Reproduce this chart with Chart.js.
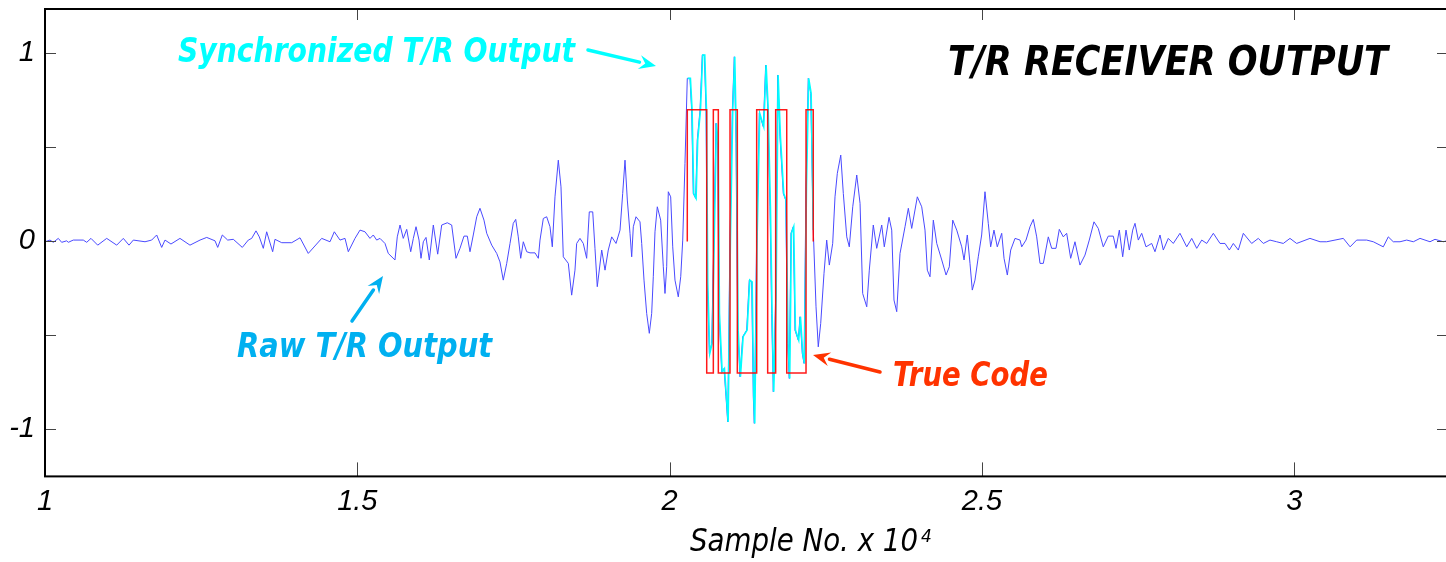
<!DOCTYPE html>
<html><head><meta charset="utf-8">
<script src="https://cdn.jsdelivr.net/npm/chart.js@4.4.0/dist/chart.umd.min.js"></script>
<style>
html,body{margin:0;padding:0;background:#fff;overflow:hidden;}
#wrap{position:relative;width:1450px;height:562px;}
</style></head><body>
<div id="wrap"><canvas id="c"></canvas></div>
<script>
// Raw T/R output (sample no. x 1e4, amplitude)
const rawX = [
1.0000,1.0080,1.0133,1.0213,1.0267,1.0347,1.0373,1.0453,1.0613,1.0668,
1.0736,1.0844,1.0988,1.1148,1.1254,1.1345,1.1414,1.1601,1.1708,1.1788,
1.1868,1.1921,1.2017,1.2161,1.2321,1.2482,1.2589,1.2722,1.2765,1.2839,
1.2925,1.3015,1.3159,1.3255,1.3309,1.3378,1.3431,1.3495,1.3549,1.3645,
1.3682,1.3790,1.3950,1.4083,1.4215,1.4430,1.4563,1.4632,1.4723,1.4803,
1.4856,1.4963,1.5043,1.5123,1.5203,1.5256,1.5310,1.5363,1.5443,1.5496,
1.5603,1.5640,1.5684,1.5736,1.5791,1.5855,1.5897,1.5940,1.5988,1.6020,
1.6057,1.6100,1.6153,1.6217,1.6287,1.6351,1.6441,1.6511,1.6580,1.6644,
1.6708,1.6761,1.6804,1.6857,1.6912,1.6964,1.7028,1.7072,1.7152,1.7232,
1.7284,1.7337,1.7392,1.7445,1.7497,1.7536,1.7577,1.7616,1.7658,1.7712,
1.7765,1.7845,1.7898,1.7925,1.7978,1.8032,1.8085,1.8122,1.8165,1.8218,
1.8261,1.8298,1.8378,1.8432,1.8485,1.8512,1.8565,1.8618,1.8672,1.8714,
1.8769,1.8805,1.8842,1.8913,1.8966,1.9018,1.9073,1.9142,1.9206,1.9249,
1.9286,1.9323,1.9366,1.9393,1.9419,1.9462,1.9526,1.9553,1.9590,1.9633,
1.9675,1.9713,1.9739,1.9766,1.9803,1.9857,1.9899,1.9926,1.9953,1.9979,
2.0017,2.0050,2.0086,2.0139,2.0178,2.0210,2.0246,
2.0283,2.0326,2.0353,2.0379,2.0417,2.0443,2.0487,2.0523,2.0556,2.0583,
2.0604,2.0636,2.0674,2.0700,2.0743,2.0770,2.0791,2.0834,2.0871,2.0903,
2.0930,2.0967,2.1004,2.1036,2.1063,2.1090,2.1127,2.1170,2.1234,2.1276,
2.1314,2.1340,2.1356,2.1394,2.1436,2.1500,2.1538,2.1570,2.1607,2.1634,
2.1660,2.1698,2.1730,2.1767,2.1820,2.1858,2.1890,2.1916,2.1943,2.1980,
2.2007,2.2060,2.2088,2.2124,2.2152,2.2184,2.2220,2.2259,2.2300,
2.2344,2.2380,2.2419,2.2472,2.2515,2.2557,2.2611,2.2648,2.2685,2.2740,
2.2781,2.2836,2.2877,2.2932,2.2996,2.3049,2.3091,2.3156,2.3197,2.3261,
2.3316,2.3396,2.3437,2.3513,2.3556,2.3592,2.3636,2.3689,2.3769,2.3822,
2.3876,2.3966,2.4036,2.4089,2.4126,2.4169,2.4222,2.4277,2.4357,2.4426,
2.4478,2.4533,2.4597,2.4677,2.4714,2.4766,2.4809,2.4846,2.4889,2.4942,
2.4996,2.5049,2.5102,2.5140,2.5193,2.5246,2.5317,2.5354,2.5407,2.5461,
2.5530,2.5610,2.5637,2.5706,2.5770,2.5823,2.5877,2.5930,2.5983,2.6063,
2.6117,2.6186,2.6239,2.6303,2.6357,2.6421,2.6490,2.6570,2.6650,2.6719,
2.6794,2.6863,2.6943,2.7023,2.7103,
2.7147,2.7200,2.7254,2.7307,2.7360,2.7414,2.7451,2.7504,2.7558,2.7627,
2.7718,2.7771,2.7851,2.7904,2.7984,2.8064,2.8171,2.8279,2.8359,2.8439,
2.8519,2.8599,2.8705,2.8812,2.8892,2.8961,2.9025,2.9105,2.9185,2.9319,
2.9425,2.9505,2.9612,2.9719,2.9825,2.9932,3.0039,3.0252,3.0413,3.0520,
3.0653,3.0786,3.0895,3.1000,3.1160,3.1266,3.1426,3.1506,3.1586,3.1694,
3.1801,3.1907,3.2014,3.2174,3.2254,3.2387,3.2462
];
const rawY = [
-0.002,0.007,-0.005,0.016,-0.005,0.003,-0.005,0.007,0.007,-0.005,
0.016,-0.020,0.016,-0.020,0.016,-0.020,0.007,-0.002,0.007,0.034,
-0.032,0.007,-0.014,0.016,-0.020,0.007,0.021,0.003,-0.032,0.034,
0.007,0.011,-0.032,0.007,0.016,0.056,0.024,-0.037,0.051,-0.055,
0.011,-0.007,-0.007,0.019,-0.064,0.016,-0.002,0.051,0.007,0.016,
-0.055,0.016,0.060,0.051,0.016,0.034,0.007,0.016,-0.011,-0.064,
-0.099,0.024,0.087,0.016,0.064,-0.055,0.016,0.078,0.007,-0.090,
-0.002,0.021,-0.099,0.087,-0.068,0.087,0.099,0.087,-0.090,-0.037,
0.028,0.028,-0.055,0.034,0.131,0.176,0.113,0.043,-0.020,-0.064,
-0.109,-0.206,-0.117,-0.011,0.096,0.117,0.024,-0.090,-0.002,-0.055,
-0.061,-0.061,-0.090,0.007,0.122,0.131,0.078,-0.029,0.237,0.432,
0.290,-0.082,-0.117,-0.286,-0.153,-0.011,0.016,-0.011,-0.090,0.157,
0.157,-0.037,-0.241,-0.046,-0.153,-0.046,0.024,-0.011,0.060,0.255,
0.432,0.220,0.043,-0.082,0.078,0.131,0.104,-0.011,-0.206,-0.383,
-0.489,-0.383,-0.188,0.051,0.184,0.113,-0.135,-0.277,-0.135,0.264,
0.237,-0.029,-0.206,-0.295,-0.188,0.007,0.415,
0.867,0.867,0.698,0.255,0.229,0.539,0.698,0.991,0.991,0.698,
-0.223,-0.596,-0.543,-0.117,0.628,0.512,-0.383,-0.694,-0.676,-0.827,
-0.960,0.024,0.698,0.982,0.521,-0.472,-0.720,-0.507,-0.472,-0.206,
-0.215,-0.827,-0.968,0.024,0.681,0.610,0.938,0.716,0.184,-0.383,
-0.800,-0.295,0.885,0.556,0.255,0.220,-0.543,-0.729,0.043,0.078,
-0.472,-0.525,-0.401,-0.596,-0.649,0.290,0.867,0.787,0.060,
-0.348,-0.561,-0.436,-0.170,0.007,-0.126,-0.011,0.237,0.362,0.459,
0.255,0.024,-0.029,0.184,0.353,0.202,-0.277,-0.348,-0.153,0.087,
-0.037,0.087,-0.029,0.128,0.060,-0.312,-0.374,-0.064,0.078,0.176,
0.069,0.237,0.184,0.060,-0.153,-0.188,0.113,-0.011,-0.099,-0.179,
-0.135,0.113,0.060,-0.029,-0.099,0.034,-0.117,-0.259,-0.206,-0.082,
0.034,0.264,0.096,-0.029,0.060,-0.029,0.043,-0.090,-0.179,-0.046,
0.016,0.007,-0.029,0.007,0.078,0.117,0.024,-0.117,-0.117,0.024,
-0.037,-0.037,0.064,0.024,0.043,-0.090,-0.002,-0.126,-0.073,0.007,
0.104,0.069,-0.029,0.028,0.028,
-0.037,0.060,-0.082,0.060,-0.046,0.060,0.096,0.007,0.043,-0.029,
-0.011,-0.055,0.034,-0.046,0.016,-0.011,0.043,-0.029,0.016,-0.037,
0.007,-0.011,0.043,-0.011,-0.011,-0.046,-0.011,-0.046,0.043,-0.011,
0.016,-0.011,0.007,-0.002,-0.011,0.016,-0.011,0.016,-0.002,-0.002,
0.007,0.016,-0.029,0.007,0.007,-0.002,-0.029,0.024,-0.002,-0.002,
0.007,-0.002,0.016,-0.002,0.011,-0.002,0.005
];
// Synchronized T/R output (only in the code window)
const syncX = [
2.0290,2.0333,2.0360,2.0386,2.0424,2.0450,2.0494,2.0530,2.0563,2.0590,
2.0611,2.0643,2.0681,2.0707,2.0750,2.0777,2.0798,2.0841,2.0878,2.0910,
2.0937,2.0974,2.1011,2.1043,2.1070,2.1097,2.1134,2.1177,2.1241,2.1283,
2.1321,2.1347,2.1363,2.1401,2.1443,2.1507,2.1545,2.1577,2.1614,2.1641,
2.1667,2.1705,2.1737,2.1774,2.1827,2.1865,2.1897,2.1923,2.1950,2.1987,
2.2014,2.2067,2.2095,2.2131,2.2159,2.2191,2.2227,2.2266,2.2300
];
const syncY = [
0.867,0.867,0.698,0.255,0.229,0.539,0.698,0.991,0.991,0.698,
-0.223,-0.596,-0.543,-0.117,0.628,0.512,-0.383,-0.694,-0.676,-0.827,
-0.960,0.024,0.698,0.982,0.521,-0.472,-0.720,-0.507,-0.472,-0.206,
-0.215,-0.827,-0.968,0.024,0.681,0.610,0.938,0.716,0.184,-0.383,
-0.800,-0.295,0.885,0.556,0.255,0.220,-0.543,-0.729,0.043,0.078,
-0.472,-0.525,-0.401,-0.596,-0.649,0.290,0.867,0.787,0.060
];
// True code: transition instants and chip levels
const codeEdges = [2.0283,2.0594,2.0700,2.0780,2.0967,2.1084,2.1394,2.1570,2.1698,2.1875,2.2184,2.2300];
const codeLevels = [0.7,-0.7,0.7,-0.7,0.7,-0.7,0.7,-0.7,0.7,-0.7,0.7];
const xTickValues = [1,1.5,2,2.5,3];
const yTickLabels = {'1':'1','0':'0','-1':'-1'};

const rawData = rawX.map((x,i)=>({x:x,y:rawY[i]}));
const syncData = syncX.map((x,i)=>({x:x,y:syncY[i]}));
const codeData = [{x:codeEdges[0],y:0}];
codeLevels.forEach((l,i)=>{codeData.push({x:codeEdges[i],y:l},{x:codeEdges[i+1],y:l});});
codeData.push({x:codeEdges[codeEdges.length-1],y:0});

const COMIC = "'Comic Sans MS','DejaVu Sans',sans-serif";
function fitText(ctx, text, left, baseline, width, cap, color, weight){
  const size = cap/0.73;
  ctx.save();
  ctx.font = 'italic ' + weight + ' ' + size.toFixed(1) + 'px ' + COMIC;
  const w = ctx.measureText(text).width;
  ctx.translate(left, baseline);
  ctx.scale(width/w, 1);
  ctx.fillStyle = color;
  ctx.textBaseline = 'alphabetic';
  ctx.textAlign = 'left';
  ctx.fillText(text, 0, 0);
  ctx.restore();
}
function arrow(ctx, x0,y0,x1,y1,color,lw,hl,hw){
  const ang = Math.atan2(y1-y0,x1-x0);
  const bx = x1 - hl*Math.cos(ang), by = y1 - hl*Math.sin(ang);
  ctx.save();
  ctx.strokeStyle = color; ctx.fillStyle = color; ctx.lineWidth = lw; ctx.lineCap='round';
  ctx.beginPath(); ctx.moveTo(x0,y0); ctx.lineTo(bx,by); ctx.stroke();
  ctx.beginPath();
  ctx.moveTo(x1,y1);
  ctx.lineTo(bx + hw*Math.sin(ang), by - hw*Math.cos(ang));
  ctx.lineTo(bx + 0.35*hl*Math.cos(ang), by + 0.35*hl*Math.sin(ang));
  ctx.lineTo(bx - hw*Math.sin(ang), by + hw*Math.cos(ang));
  ctx.closePath(); ctx.fill();
  ctx.restore();
}

const annot = {
  id:'annot',
  afterDraw(chart){
    const ctx = chart.ctx, a = chart.chartArea;
    const xs = chart.scales.x, ys = chart.scales.y;
    ctx.save();
    ctx.strokeStyle = '#444'; ctx.lineWidth = 1;
    xs.ticks.forEach(t=>{
      const px = Math.round(xs.getPixelForValue(t.value))+0.5;
      ctx.beginPath();
      ctx.moveTo(px, a.bottom); ctx.lineTo(px, a.bottom-14);
      ctx.moveTo(px, a.top); ctx.lineTo(px, a.top+11);
      ctx.stroke();
    });
    ys.ticks.forEach(t=>{
      const py = Math.round(ys.getPixelForValue(t.value))+0.5;
      ctx.beginPath();
      ctx.moveTo(a.left, py); ctx.lineTo(a.left+11, py);
      ctx.moveTo(a.right, py); ctx.lineTo(a.right-11, py);
      ctx.stroke();
    });
    ctx.strokeStyle = '#000'; ctx.lineWidth = 2;
    ctx.strokeRect(a.left, a.top, a.right-a.left, a.bottom-a.top);
    ctx.restore();
    fitText(ctx, 'T/R RECEIVER OUTPUT', 948, 75, 440, 30, '#000', 'bold');
    fitText(ctx, 'Synchronized T/R Output', 178, 62, 397, 25, '#00ffff', 'bold');
    fitText(ctx, 'Raw T/R Output', 237, 357, 255, 24, '#00b0f0', 'bold');
    fitText(ctx, 'True Code', 893, 386, 155, 24, '#ff3300', 'bold');
    fitText(ctx, 'Sample No. x 10', 690, 551, 228, 23, '#000', 'normal');
    ctx.save();
    ctx.font = 'italic normal 17px ' + COMIC;
    ctx.fillStyle = '#000';
    ctx.fillText('4', 921, 542);
    ctx.restore();
    arrow(ctx, 588, 50, 656, 66, '#00ffff', 3.5, 17, 7);
    arrow(ctx, 352, 321, 383, 276, '#00b0f0', 3.5, 17, 7);
    arrow(ctx, 880, 372, 813, 355, '#ff3300', 3.5, 17, 7);
  }
};

new Chart(document.getElementById('c'), {
  type:'line',
  data:{datasets:[
    {label:'True Code', data:codeData, borderColor:'rgba(255,0,0,0.9)', borderWidth:1.5, pointRadius:0, tension:0, fill:false},
    {label:'Synchronized T/R Output', data:syncData, borderColor:'#00ffff', borderWidth:1.6, pointRadius:0, tension:0, fill:false},
    {label:'Raw T/R Output', data:rawData, borderColor:'#4a4aff', borderWidth:1, pointRadius:0, tension:0, fill:false}
  ]},
  options:{
    responsive:true, maintainAspectRatio:false, animation:false,
    layout:{padding:{top:9,right:2,left:0,bottom:0}},
    plugins:{legend:{display:false}, tooltip:{enabled:false}},
    scales:{
      x:{type:'linear', min:1, max:3.2462,
        grid:{display:false, drawTicks:false, tickLength:0}, border:{display:false},
        afterBuildTicks:(s)=>{ s.ticks = xTickValues.map(v=>({value:v})); },
        ticks:{padding:8, color:'#000', maxRotation:0, autoSkip:false,
          font:{family:"'Liberation Sans', Arial, sans-serif", size:29, style:'italic'},
          callback:(v)=>String(v)},
        afterFit:(s)=>{ s.height = 85.6; s.paddingLeft = 0; s.paddingRight = 0; }
      },
      y:{min:-1.25, max:1.236,
        grid:{display:false, drawTicks:false, tickLength:0}, border:{display:false},
        ticks:{stepSize:0.5, includeBounds:false, padding:10, color:'#000',
          font:{family:"'Liberation Sans', Arial, sans-serif", size:29, style:'italic'},
          callback:(v)=> (yTickLabels[String(v)] !== undefined ? yTickLabels[String(v)] : '')},
        afterFit:(s)=>{ s.width = 45; s.paddingTop = 0; s.paddingBottom = 0; }
      }
    }
  },
  plugins:[annot]
});
</script>
</body></html>
